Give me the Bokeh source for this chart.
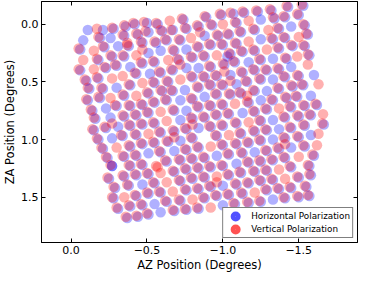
from bokeh.plotting import figure
from bokeh.models import (Range1d, LinearAxis, FixedTicker, Legend, LegendItem,
                          ColumnDataSource, CDSView, IndexFilter)
from bokeh.embed import file_html
from bokeh.resources import INLINE

X_TICKS = [0.0, -0.5, -1.0, -1.5]
X_TICK_LABELS = ["0.0", "\u22120.5", "\u22121.0", "\u22121.5"]
Y_TICKS = [0.0, 0.5, 1.0, 1.5]
Y_TICK_LABELS = ["0.0", "0.5", "1.0", "1.5"]
SERIES = ["Horizontal Polarization", "Vertical Polarization"]
COLORS = ["blue", "red"]
X_LABEL = "AZ Position (Degrees)"
Y_LABEL = "ZA Position (Degrees)"

# Horizontal polarization (blue) beam positions, row by row
BLUE_AZ = [
    [-0.11,-0.21,-0.28,-0.36,-0.42,-0.50,-0.57,-0.74,-0.89,-0.99,-1.07,-1.14,-1.23,-1.32,-1.43,-1.53],
    [-0.08,-0.19,-0.26,-0.35,-0.44,-0.51,-0.60,-0.67,-0.76,-0.84,-0.93,-1.09,-1.25,-1.34,-1.41,-1.50],
    [-0.06,-0.22,-0.31,-0.38,-0.47,-0.56,-0.63,-0.72,-0.88,-0.97,-1.04,-1.12,-1.21,-1.37,-1.45,-1.54],
    [-0.18,-0.27,-0.35,-0.51,-0.59,-0.68,-0.76,-0.84,-0.92,-1.00,-1.09,-1.25,-1.33,-1.41,-1.56],
    [-0.06,-0.23,-0.30,-0.39,-0.47,-0.55,-0.71,-0.80,-0.88,-1.05,-1.13,-1.21,-1.37,-1.46,-1.54,-1.03],
    [-0.10,-0.18,-0.43,-0.52,-0.59,-0.67,-0.76,-0.84,-0.92,-1.01,-1.08,-1.17,-1.25,-1.33,-1.42,-1.57],
    [-0.12,-0.21,-0.30,-0.39,-0.55,-0.64,-0.80,-0.88,-0.96,-1.05,-1.13,-1.21,-1.29,-1.37,-1.45],
    [-0.11,-0.19,-0.35,-0.51,-0.60,-0.67,-0.75,-0.84,-0.92,-1.00,-1.09,-1.16,-1.25,-1.33,-1.41,-1.50,-1.60],
    [-0.14,-0.23,-0.30,-0.39,-0.47,-0.55,-0.63,-0.72,-0.80,-0.88,-0.96,-1.05,-1.12,-1.21,-1.29,-1.37,-1.46,-1.53],
    [-0.16,-0.26,-0.35,-0.43,-0.51,-0.68,-0.76,-0.84,-0.92,-1.00,-1.17,-1.25,-1.33,-1.42,-1.49,-1.58],
    [-0.15,-0.23,-0.31,-0.39,-0.47,-0.55,-0.72,-0.80,-0.88,-0.96,-1.04,-1.13,-1.21,-1.29,-1.45,-1.54,-1.62],
    [-0.18,-0.27,-0.34,-0.43,-0.59,-0.68,-0.76,-0.84,-0.92,-1.00,-1.09,-1.25,-1.33,-1.41,-1.50,-1.58],
    [-0.21,-0.39,-0.47,-0.55,-0.64,-0.72,-0.80,-0.96,-1.12,-1.21,-1.29,-1.37,-1.45,-1.54,-1.665],
    [-0.24,-0.35,-0.43,-0.51,-0.59,-0.68,-0.76,-0.84,-1.00,-1.09,-1.17,-1.25,-1.33,-1.41,-1.50,-1.58],
    [-0.27,-0.27,-0.39,-0.47,-0.63,-0.72,-0.80,-0.88,-0.96,-1.04,-1.13,-1.21,-1.29,-1.37,-1.45,-1.54],
    [-0.25,-0.35,-0.43,-0.51,-0.68,-0.76,-0.84,-0.92,-1.00,-1.09,-1.17,-1.25,-1.33,-1.41,-1.60],
    [-0.29,-0.38,-0.47,-0.55,-0.72,-0.80,-0.88,-1.04,-1.12,-1.21,-1.29,-1.45,-1.57],
    [-0.28,-0.43,-0.51,-0.59,-0.76,-0.84,-0.92,-1.00,-1.09,-1.17,-1.25,-1.33,-1.50,-1.58],
    [-0.31,-0.39,-0.47,-0.55,-0.63,-0.72,-0.88,-0.96,-1.04,-1.13,-1.29,-1.37,-1.45,-1.55],
    [-0.37,-0.44,-0.51,-0.59,-0.68,-0.76,-0.84,-1.00,-1.08,-1.17,-1.25,-1.33,-1.41,-1.50,-1.57],
]
BLUE_ZA = [
    [0.05,0.05,0.04,0.02,0.00,-0.01,0.00,-0.04,-0.06,-0.08,-0.09,-0.10,-0.11,-0.12,-0.15,-0.16],
    [0.14,0.12,0.12,0.10,0.09,0.07,0.06,0.05,0.04,0.02,0.01,-0.01,-0.04,-0.05,-0.06,-0.08],
    [0.22,0.20,0.19,0.19,0.16,0.16,0.14,0.14,0.10,0.10,0.09,0.07,0.05,0.04,0.02,0.01],
    [0.31,0.28,0.28,0.25,0.23,0.23,0.22,0.20,0.18,0.18,0.17,0.13,0.13,0.12,0.09],
    [0.40,0.38,0.36,0.37,0.34,0.33,0.31,0.29,0.28,0.26,0.24,0.23,0.21,0.19,0.19,0.28],
    [0.49,0.47,0.43,0.43,0.42,0.40,0.38,0.38,0.37,0.35,0.33,0.33,0.31,0.30,0.30,0.27],
    [0.56,0.56,0.55,0.53,0.51,0.50,0.46,0.46,0.45,0.44,0.42,0.40,0.40,0.39,0.37],
    [0.66,0.64,0.62,0.60,0.58,0.58,0.57,0.55,0.53,0.53,0.52,0.50,0.48,0.48,0.46,0.45,0.44],
    [0.75,0.73,0.71,0.71,0.70,0.68,0.66,0.66,0.65,0.63,0.61,0.61,0.60,0.58,0.58,0.56,0.54,0.53],
    [0.82,0.81,0.80,0.79,0.77,0.75,0.75,0.72,0.71,0.70,0.68,0.66,0.66,0.64,0.63,0.62],
    [0.92,0.90,0.89,0.88,0.87,0.86,0.83,0.82,0.81,0.79,0.78,0.77,0.76,0.74,0.72,0.71,0.70],
    [1.00,0.99,0.97,0.96,0.94,0.93,0.91,0.90,0.89,0.88,0.86,0.84,0.83,0.81,0.80,0.79],
    [1.08,1.06,1.04,1.03,1.02,1.01,0.99,0.97,0.95,0.93,0.92,0.91,0.90,0.88,0.87],
    [1.16,1.15,1.14,1.12,1.11,1.10,1.09,1.07,1.05,1.04,1.03,1.01,1.00,0.99,0.98,0.96],
    [1.23,1.23,1.23,1.22,1.19,1.18,1.17,1.16,1.14,1.13,1.12,1.11,1.10,1.08,1.07,1.06],
    [1.34,1.32,1.31,1.30,1.28,1.26,1.25,1.24,1.23,1.21,1.20,1.19,1.18,1.16,1.14],
    [1.42,1.40,1.39,1.38,1.36,1.34,1.33,1.31,1.29,1.28,1.27,1.24,1.23],
    [1.51,1.49,1.47,1.46,1.44,1.43,1.41,1.40,1.39,1.38,1.36,1.35,1.33,1.31],
    [1.60,1.58,1.57,1.56,1.54,1.53,1.51,1.49,1.48,1.47,1.44,1.43,1.42,1.41],
    [1.68,1.67,1.65,1.63,1.62,1.61,1.60,1.57,1.56,1.55,1.54,1.52,1.51,1.50,1.49],
]

# Vertical polarization (red) beam positions, row by row
RED_AZ = [
    [-0.17,-0.27,-0.35,-0.41,-0.48,-0.56,-0.65,-0.73,-0.88,-0.98,-1.05,-1.13,-1.22,-1.31,-1.42,-1.52],
    [-0.18,-0.34,-0.43,-0.49,-0.59,-0.66,-0.75,-0.83,-0.92,-1.00,-1.08,-1.17,-1.33,-1.40,-1.49],
    [-0.05,-0.15,-0.21,-0.37,-0.46,-0.55,-0.62,-0.71,-0.79,-0.85,-0.96,-1.03,-1.11,-1.20,-1.30,-1.36,-1.53,-0.37],
    [-0.08,-0.17,-0.26,-0.34,-0.43,-0.47,-0.67,-0.83,-0.91,-0.99,-1.08,-1.17,-1.32,-1.40,-1.50,-1.55],
    [-0.05,-0.15,-0.22,-0.29,-0.46,-0.54,-0.64,-0.70,-0.79,-0.87,-0.96,-1.04,-1.12,-1.20,-1.29,-1.36,-1.45,-1.53],
    [-0.09,-0.17,-0.27,-0.34,-0.42,-0.58,-0.66,-0.72,-0.91,-1.00,-1.07,-1.24,-1.41,-1.49,-1.56],
    [-0.11,-0.20,-0.38,-0.47,-0.54,-0.63,-0.72,-0.79,-0.87,-0.95,-1.01,-1.12,-1.20,-1.28,-1.36,-1.56],
    [-0.10,-0.18,-0.26,-0.34,-0.43,-0.50,-0.59,-0.66,-0.83,-0.91,-0.99,-1.05,-1.15,-1.24,-1.40,-1.49],
    [-0.13,-0.29,-0.38,-0.46,-0.54,-0.62,-0.79,-0.95,-1.04,-1.11,-1.20,-1.36,-1.45,-1.52,-1.63,-1.16],
    [-0.15,-0.34,-0.42,-0.50,-0.59,-0.67,-0.83,-0.91,-0.99,-1.08,-1.16,-1.32,-1.41,-1.48],
    [-0.14,-0.22,-0.27,-0.38,-0.46,-0.54,-0.63,-0.79,-0.87,-0.95,-1.03,-1.20,-1.28,-1.37,-1.44,-1.53,-1.61],
    [-0.17,-0.33,-0.42,-0.51,-0.58,-0.67,-0.75,-0.80,-0.91,-0.99,-1.08,-1.17,-1.24,-1.40,-1.49,-1.57,-1.66],
    [-0.20,-0.30,-0.38,-0.46,-0.54,-0.63,-0.68,-0.79,-0.95,-1.04,-1.11,-1.20,-1.28,-1.44,-1.53,-1.655],
    [-0.23,-0.34,-0.42,-0.58,-0.75,-0.83,-0.92,-0.99,-1.08,-1.16,-1.24,-1.40,-1.49,-1.63],
    [-0.26,-0.38,-0.46,-0.56,-0.57,-0.62,-0.71,-0.79,-0.87,-1.03,-1.12,-1.28,-1.36,-1.41,-1.53,-1.62],
    [-0.24,-0.34,-0.42,-0.50,-0.59,-0.67,-0.75,-0.83,-0.91,-0.99,-1.16,-1.24,-1.32,-1.40,-1.50,-1.59],
    [-0.28,-0.37,-0.54,-0.63,-0.71,-0.79,-0.87,-0.96,-1.03,-1.11,-1.20,-1.28,-1.37,-1.44,-1.56],
    [-0.27,-0.35,-0.42,-0.50,-0.58,-0.67,-0.75,-0.83,-0.91,-0.96,-1.08,-1.16,-1.24,-1.32,-1.41,-1.49,-1.57],
    [-0.30,-0.38,-0.46,-0.62,-0.71,-0.80,-0.87,-0.95,-1.03,-1.12,-1.21,-1.28,-1.36,-1.44,-1.54],
    [-0.36,-0.43,-0.50,-0.67,-0.75,-0.83,-0.92,-1.07,-1.16,-1.24,-1.40,-1.49,-1.56],
]
RED_ZA = [
    [0.04,0.03,0.01,-0.01,-0.02,-0.01,-0.03,-0.05,-0.07,-0.09,-0.10,-0.11,-0.12,-0.13,-0.16,-0.17],
    [0.11,0.09,0.08,0.06,0.05,0.05,0.03,0.01,0.00,0.00,-0.02,-0.03,-0.06,-0.07,-0.09],
    [0.21,0.23,0.19,0.18,0.15,0.15,0.13,0.13,0.12,0.07,0.09,0.08,0.06,0.04,0.05,0.03,0.00,0.16],
    [0.31,0.30,0.27,0.27,0.27,0.22,0.22,0.19,0.17,0.17,0.16,0.15,0.12,0.11,0.11,0.08],
    [0.39,0.39,0.37,0.35,0.33,0.32,0.31,0.30,0.28,0.27,0.27,0.25,0.23,0.22,0.22,0.20,0.18,0.18],
    [0.48,0.46,0.47,0.45,0.42,0.41,0.39,0.35,0.36,0.34,0.32,0.30,0.29,0.28,0.26],
    [0.55,0.55,0.52,0.51,0.50,0.49,0.48,0.45,0.45,0.44,0.41,0.41,0.39,0.39,0.38,0.35],
    [0.65,0.63,0.64,0.61,0.62,0.59,0.57,0.57,0.54,0.52,0.52,0.49,0.49,0.47,0.45,0.44],
    [0.74,0.70,0.70,0.69,0.67,0.65,0.64,0.60,0.60,0.59,0.57,0.55,0.53,0.52,0.52,0.62],
    [0.81,0.79,0.78,0.76,0.76,0.74,0.71,0.70,0.69,0.69,0.67,0.65,0.63,0.62],
    [0.91,0.89,0.86,0.87,0.86,0.85,0.84,0.81,0.80,0.78,0.77,0.75,0.73,0.73,0.71,0.70,0.69],
    [0.99,0.96,0.95,0.95,0.93,0.92,0.90,0.87,0.88,0.87,0.85,0.85,0.83,0.80,0.79,0.78,0.78],
    [1.07,1.07,1.05,1.03,1.02,1.01,0.98,0.98,0.96,0.96,0.94,0.92,0.91,0.89,0.87,0.86],
    [1.15,1.14,1.13,1.10,1.08,1.06,1.06,1.04,1.03,1.02,1.00,0.98,0.97,0.95],
    [1.22,1.22,1.21,1.23,1.24,1.18,1.17,1.16,1.15,1.12,1.11,1.09,1.07,1.04,1.05,1.05],
    [1.33,1.31,1.30,1.29,1.29,1.27,1.25,1.24,1.23,1.22,1.19,1.18,1.17,1.15,1.15,1.13],
    [1.41,1.39,1.37,1.37,1.35,1.33,1.32,1.32,1.30,1.28,1.27,1.26,1.26,1.23,1.22],
    [1.50,1.50,1.48,1.46,1.45,1.45,1.43,1.42,1.40,1.37,1.38,1.37,1.35,1.34,1.34,1.32,1.30],
    [1.59,1.57,1.56,1.53,1.52,1.52,1.50,1.48,1.47,1.46,1.46,1.43,1.42,1.41,1.40],
    [1.67,1.66,1.64,1.61,1.60,1.59,1.59,1.55,1.54,1.53,1.50,1.49,1.48],
]

FONT = "DejaVu Sans"


def pairs(az_rows, za_rows):
    xs, ys = [], []
    for ra, rz in zip(az_rows, za_rows):
        n = min(len(ra), len(rz))
        xs.extend(ra[:n])
        ys.extend(rz[:n])
    return xs, ys


p = figure(width=358, height=274,
           x_range=Range1d(0.195, -1.887), y_range=Range1d(1.893, -0.197),
           output_backend="svg", toolbar_location=None,
           min_border_left=0, min_border_right=1, min_border_top=1, min_border_bottom=0)
p.background_fill_color = "white"
p.border_fill_color = "white"
p.outline_line_color = "black"
p.xgrid.grid_line_color = None
p.ygrid.grid_line_color = None
# range used only for the legend swatch renderers, so they never land inside the frame
p.extra_x_ranges = {"legend_proxy": Range1d(start=50, end=51)}


def style_axis(ax, ticks, labels, show_labels=True):
    ax.ticker = FixedTicker(ticks=ticks)
    ax.major_tick_in = 4
    ax.major_tick_out = 0
    ax.minor_tick_line_color = None
    ax.axis_line_color = "black"
    ax.major_tick_line_color = "black"
    if show_labels:
        ax.major_label_overrides = {t: l for t, l in zip(ticks, labels)}
        ax.major_label_text_font = FONT
        ax.major_label_text_font_size = "11px"
        ax.major_label_text_color = "black"
        ax.major_label_text_line_height = 1.0
        ax.major_label_standoff = 3
        ax.axis_label_text_font = FONT
        ax.axis_label_text_font_size = "11.5px"
        ax.axis_label_text_font_style = "normal"
        ax.axis_label_text_color = "black"
        ax.axis_label_text_line_height = 1.0
        ax.axis_label_standoff = 1
    else:
        ax.major_label_overrides = {t: "" for t in ticks}
        ax.major_label_text_font_size = "0px"
        ax.major_label_standoff = 0


style_axis(p.xaxis[0], X_TICKS, X_TICK_LABELS)
style_axis(p.yaxis[0], Y_TICKS, Y_TICK_LABELS)
p.xaxis[0].axis_label = X_LABEL
p.yaxis[0].axis_label = Y_LABEL

top_ax = LinearAxis()
style_axis(top_ax, X_TICKS, X_TICK_LABELS, show_labels=False)
p.add_layout(top_ax, "above")
right_ax = LinearAxis()
style_axis(right_ax, Y_TICKS, Y_TICK_LABELS, show_labels=False)
p.add_layout(right_ax, "right")

bx, by = pairs(BLUE_AZ, BLUE_ZA)
rx, ry = pairs(RED_AZ, RED_ZA)
blue_src = ColumnDataSource(dict(az=bx, za=by))
red_src = ColumnDataSource(dict(az=rx, za=ry))

p.scatter(x="az", y="za", source=blue_src, size=10.5, marker="circle",
          fill_color=COLORS[0], fill_alpha=0.31, line_color=None)
p.scatter(x="az", y="za", source=red_src, size=10.5, marker="circle",
          fill_color=COLORS[1], fill_alpha=0.31, line_color=None)

# legend swatches: one point of each series mapped through a far-away range,
# so only the legend shows them (heavier alpha like the reference legend)
leg_renderers = []
for c, src in zip(COLORS, [blue_src, red_src]):
    r = p.scatter(x="az", y="za", source=src, view=CDSView(filter=IndexFilter(indices=[0])),
                  x_range_name="legend_proxy",
                  marker="circle", size=10, fill_color=None,
                  line_color=c, line_alpha=0.68, line_width=5.2)
    leg_renderers.append(r)

legend = Legend(items=[LegendItem(label=SERIES[i], renderers=[leg_renderers[i]]) for i in range(2)],
                location="bottom_right")
legend.label_text_font = FONT
legend.label_text_font_size = "8.8px"
legend.label_text_color = "black"
legend.label_height = 12
legend.glyph_height = 12
legend.glyph_width = 20
legend.label_standoff = 6
legend.padding = 2
legend.spacing = 1
legend.margin = 4
legend.border_line_color = "black"
legend.border_line_width = 1
legend.background_fill_color = "white"
legend.background_fill_alpha = 1.0
p.add_layout(legend)

open("out.html", "w").write(file_html(p, INLINE))
